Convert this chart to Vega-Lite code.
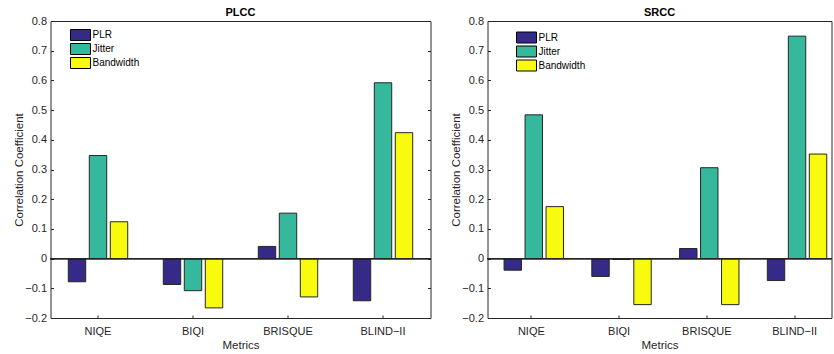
{
  "$schema": "https://vega.github.io/schema/vega-lite/v6.json",
  "padding": {"left": 12.5, "top": 6, "right": 0, "bottom": 0},
  "config": {
    "font": "Liberation Sans",
    "view": {"stroke": "#262626", "strokeWidth": 1},
    "title": {"fontSize": 11, "fontWeight": "bold", "color": "#000000", "offset": -3},
    "axis": {
      "domain": false, "grid": false,
      "tickColor": "#262626", "tickSize": -3,
      "labelColor": "#262626", "labelFontSize": 11, "labelFont": "Liberation Sans",
      "titleColor": "#262626", "titleFontSize": 11.5, "titleFontWeight": "normal", "titleFont": "Liberation Sans"
    },
    "legend": {
      "labelFontSize": 10, "labelColor": "#000000", "labelFont": "Liberation Sans",
      "symbolType": "M-1.818,-1H1.818V1H-1.818Z", "symbolSize": 121,
      "symbolStrokeColor": "#000000", "symbolStrokeWidth": 1, "symbolOpacity": 1,
      "labelOffset": 6, "rowPadding": -6, "padding": 0
    }
  },
  "data": {"values": [
    {"panel": "PLCC", "metric": "NIQE", "series": "PLR", "value": -0.078},
    {"panel": "PLCC", "metric": "NIQE", "series": "Jitter", "value": 0.347},
    {"panel": "PLCC", "metric": "NIQE", "series": "Bandwidth", "value": 0.124},
    {"panel": "PLCC", "metric": "BIQI", "series": "PLR", "value": -0.087},
    {"panel": "PLCC", "metric": "BIQI", "series": "Jitter", "value": -0.108},
    {"panel": "PLCC", "metric": "BIQI", "series": "Bandwidth", "value": -0.166},
    {"panel": "PLCC", "metric": "BRISQUE", "series": "PLR", "value": 0.041},
    {"panel": "PLCC", "metric": "BRISQUE", "series": "Jitter", "value": 0.153},
    {"panel": "PLCC", "metric": "BRISQUE", "series": "Bandwidth", "value": -0.129},
    {"panel": "PLCC", "metric": "BLIND−II", "series": "PLR", "value": -0.142},
    {"panel": "PLCC", "metric": "BLIND−II", "series": "Jitter", "value": 0.592},
    {"panel": "PLCC", "metric": "BLIND−II", "series": "Bandwidth", "value": 0.424},
    {"panel": "SRCC", "metric": "NIQE", "series": "PLR", "value": -0.039},
    {"panel": "SRCC", "metric": "NIQE", "series": "Jitter", "value": 0.484},
    {"panel": "SRCC", "metric": "NIQE", "series": "Bandwidth", "value": 0.175},
    {"panel": "SRCC", "metric": "BIQI", "series": "PLR", "value": -0.060},
    {"panel": "SRCC", "metric": "BIQI", "series": "Jitter", "value": -0.003},
    {"panel": "SRCC", "metric": "BIQI", "series": "Bandwidth", "value": -0.155},
    {"panel": "SRCC", "metric": "BRISQUE", "series": "PLR", "value": 0.034},
    {"panel": "SRCC", "metric": "BRISQUE", "series": "Jitter", "value": 0.306},
    {"panel": "SRCC", "metric": "BRISQUE", "series": "Bandwidth", "value": -0.155},
    {"panel": "SRCC", "metric": "BLIND−II", "series": "PLR", "value": -0.074},
    {"panel": "SRCC", "metric": "BLIND−II", "series": "Jitter", "value": 0.749},
    {"panel": "SRCC", "metric": "BLIND−II", "series": "Bandwidth", "value": 0.352}
  ]},
  "spacing": 18,
  "resolve": {"legend": {"color": "independent"}, "scale": {"x": "independent", "y": "independent"}},
  "hconcat": [
    {
      "title": "PLCC",
      "width": 380, "height": 297,
      "transform": [{"filter": "datum.panel == 'PLCC'"}],
      "resolve": {"axis": {"x": "independent", "y": "independent"}},
      "layer": [
        {
          "mark": {"type": "bar", "stroke": "#262626", "strokeWidth": 1},
          "encoding": {
            "x": {"field": "metric", "type": "nominal", "sort": ["NIQE", "BIQI", "BRISQUE", "BLIND−II"],
                  "scale": {"paddingInner": 0.337, "paddingOuter": 0.1685, "align": 0.5},
                  "axis": {"title": "Metrics", "labelAngle": 0, "labelPadding": 10, "titlePadding": 3}},
            "xOffset": {"field": "series", "type": "nominal", "sort": ["PLR", "Jitter", "Bandwidth"],
                        "scale": {"paddingInner": 0.17, "paddingOuter": 0.085}},
            "y": {"field": "value", "type": "quantitative",
                  "scale": {"domain": [-0.2, 0.8], "nice": false, "zero": false},
                  "axis": {"title": "Correlation Coefficient", "values": [-0.2, -0.1, 0, 0.1, 0.2, 0.3, 0.4, 0.5, 0.6, 0.7, 0.8],
                           "labelExpr": "datum.value == 0 ? '0' : format(datum.value, '.1f')", "labelPadding": 7, "titlePadding": 0}},
            "color": {"field": "series", "type": "nominal", "sort": ["PLR", "Jitter", "Bandwidth"],
                      "scale": {"domain": ["PLR", "Jitter", "Bandwidth"], "range": ["#352a87", "#36b89c", "#f9fb0e"]},
                      "legend": {"title": null, "orient": "none", "legendX": 24, "legendY": 8}}
          }
        },
        {
          "mark": {"type": "rule", "color": "#262626", "strokeWidth": 1},
          "encoding": {"y": {"datum": 0, "type": "quantitative",
                             "axis": {"orient": "right", "labels": false, "title": null, "values": [-0.2, -0.1, 0, 0.1, 0.2, 0.3, 0.4, 0.5, 0.6, 0.7, 0.8]}}}
        }
      ]
    },
    {
      "title": "SRCC",
      "width": 344, "height": 297,
      "transform": [{"filter": "datum.panel == 'SRCC'"}],
      "resolve": {"axis": {"x": "independent", "y": "independent"}},
      "layer": [
        {
          "mark": {"type": "bar", "stroke": "#262626", "strokeWidth": 1},
          "encoding": {
            "x": {"field": "metric", "type": "nominal", "sort": ["NIQE", "BIQI", "BRISQUE", "BLIND−II"],
                  "scale": {"paddingInner": 0.337, "paddingOuter": 0.1285, "align": 0.655},
                  "axis": {"title": "Metrics", "labelAngle": 0, "labelPadding": 10, "titlePadding": 3}},
            "xOffset": {"field": "series", "type": "nominal", "sort": ["PLR", "Jitter", "Bandwidth"],
                        "scale": {"paddingInner": 0.17, "paddingOuter": 0.085}},
            "y": {"field": "value", "type": "quantitative",
                  "scale": {"domain": [-0.2, 0.8], "nice": false, "zero": false},
                  "axis": {"title": "Correlation Coefficient", "values": [-0.2, -0.1, 0, 0.1, 0.2, 0.3, 0.4, 0.5, 0.6, 0.7, 0.8],
                           "labelExpr": "datum.value == 0 ? '0' : format(datum.value, '.1f')", "labelPadding": 7, "titlePadding": 0}},
            "color": {"field": "series", "type": "nominal", "sort": ["PLR", "Jitter", "Bandwidth"],
                      "scale": {"domain": ["PLR", "Jitter", "Bandwidth"], "range": ["#352a87", "#36b89c", "#f9fb0e"]},
                      "legend": {"title": null, "orient": "none", "legendX": 33, "legendY": 10.5}}
          }
        },
        {
          "mark": {"type": "rule", "color": "#262626", "strokeWidth": 1},
          "encoding": {"y": {"datum": 0, "type": "quantitative", "axis": null}}
        }
      ]
    }
  ]
}
